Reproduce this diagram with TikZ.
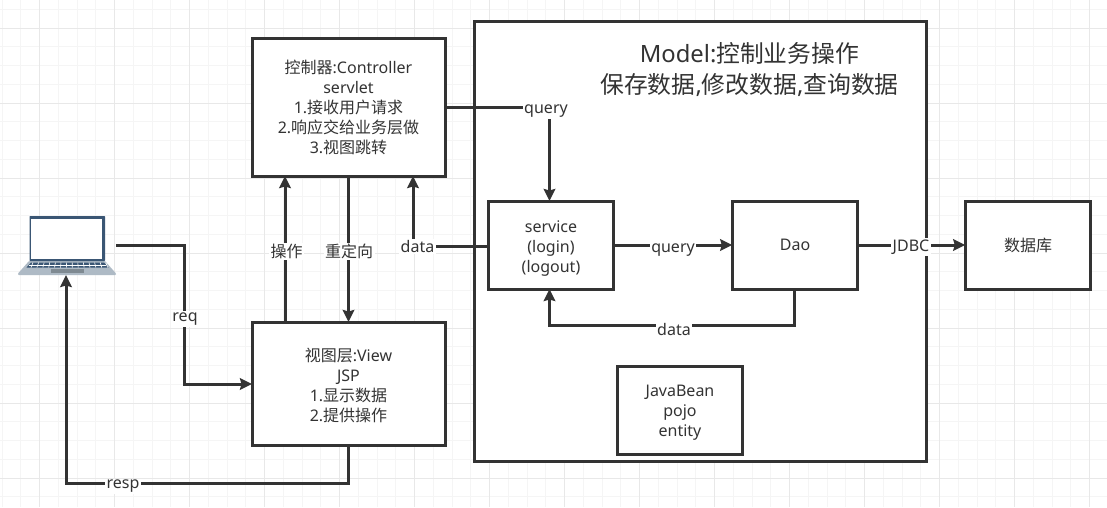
\documentclass[tikz,border=0pt]{standalone}
\usepackage{fontspec}
\setmainfont{Noto Sans}
\newfontfamily\cjk{Noto Sans CJK SC}
\newcommand{\Zh}[1]{{\cjk #1}}
\newcommand{\Dn}[1]{\rule{0pt}{#1pt}}
\usetikzlibrary{arrows.meta}
\definecolor{ink}{HTML}{333333}
\definecolor{gridminor}{HTML}{F5F5F5}
\definecolor{gridmajor}{HTML}{E8E8E8}
\definecolor{lapdark}{HTML}{3A5674}
\definecolor{lapbase}{HTML}{AEBAC5}
\definecolor{lappad}{HTML}{7F8A92}
\tikzset{
  x=1pt,y=-1pt,
  box/.style={draw=ink,fill=white,line width=3pt,inner sep=0pt,outer sep=0pt,align=center,text=ink,font=\fontsize{16}{20}\selectfont},
  conn/.style={draw=ink,line width=3pt},
  arr/.style={conn,-{Stealth[length=12pt,width=11.5pt,inset=1.5pt]}},
  lbl/.style={fill=white,text=ink,inner sep=1.5pt,font=\fontsize{16}{18}\selectfont},
  title/.style={text=ink,inner sep=0pt,align=center,font=\fontsize{23.8}{31}\selectfont},
}
\begin{document}
\begin{tikzpicture}
\useasboundingbox (0,0) rectangle (1107,507);
\fill[white] (0,0) rectangle (1107,507);
% grid
\foreach \k in {-2,...,57}{
  \draw[gridminor,line width=1pt] ({39.5+\k*18.75},0) -- ({39.5+\k*18.75},507);
}
\foreach \k in {-1,...,26}{
  \draw[gridminor,line width=1pt] (0,{28+\k*18.75}) -- (1107,{28+\k*18.75});
}
\foreach \k in {0,...,14}{
  \draw[gridmajor,line width=1pt] ({39.5+\k*75},0) -- ({39.5+\k*75},507);
}
\foreach \k in {0,...,6}{
  \draw[gridmajor,line width=1pt] (0,{28+\k*75}) -- (1107,{28+\k*75});
}
% boxes
\node[box,minimum width=452.5pt,minimum height=440pt] (model) at (700.5,241) {};
\node[title] (modeltitle) at (749.5,70) {Model:\Zh{控制业务操作}\\\Zh{保存数据},\Zh{修改数据},\Zh{查询数据}};
\node[box,minimum width=193pt,minimum height=138pt] (ctrl) at (348.5,107) {\Dn{15}\Zh{控制器}:Controller\\servlet\\1.\Zh{接收用户请求}\\2.\Zh{响应交给业务层做}\\3.\Zh{视图跳转}};
\node[box,minimum width=193pt,minimum height=123pt] (view) at (348.5,383.5) {\Dn{17}\Zh{视图层}:View\\JSP\\1.\Zh{显示数据}\\2.\Zh{提供操作}};
\node[box,minimum width=125.5pt,minimum height=88pt] (service) at (551,245) {\Dn{18}service\\(login)\\(logout)};
\node[box,minimum width=125.5pt,minimum height=88pt] (dao) at (795,245) {Dao};
\node[box,minimum width=125.5pt,minimum height=88pt] (db) at (1028,245) {\Zh{数据库}};
\node[box,minimum width=125.5pt,minimum height=88pt] (bean) at (680,410) {\Dn{16}JavaBean\\pojo\\entity};
% laptop
\fill[lapbase,rounded corners=0.8pt] (29,261) -- (105,261) -- (116,273.5) -- (116,275) -- (18,275) -- (18,273.5) -- cycle;
\fill[lapdark,rounded corners=0.6pt] (29.5,216) rectangle (105,261);
\fill[white] (31,219) rectangle (102,259);
\fill[lapdark] (31,262.5) -- (104,262.5) -- (108.5,267.5) -- (26.5,267.5) -- cycle;
\foreach \k in {0,...,13}{
  \draw[white,line width=0.6pt] ({33+\k*5.6},262.5) -- ({31+\k*5.9},267.5);
}
\draw[white,line width=0.5pt] (29,265) -- (106,265);
\fill[lappad] (51,269) rectangle (84,272.5);
\coordinate (lapout) at (116,245);
\coordinate (lapin) at (66,275);
% helper coordinates
\coordinate (reqbend1) at (184.5,245);
\coordinate (reqbend2) at (184.5,384);
\coordinate (respbend1) at (348.5,483);
\coordinate (respbend2) at (66,483);
\coordinate (opx) at (285,250);
\coordinate (datax) at (413,246);
\coordinate (queryb1) at (549.5,107);
\coordinate (serviceq) at (549.5,201);
\coordinate (serviced) at (549.5,289);
\coordinate (daob) at (794,289);
\coordinate (dbend1) at (794,325.5);
\coordinate (dbend2) at (549.5,325.5);
% connectors
\draw[arr] (lapout) -- (reqbend1) -- (reqbend2) -- (view.west |- reqbend2);
\draw[arr] (view.south) -- (respbend1) -- (respbend2) -- (lapin);
\draw[arr] (opx |- view.north) -- (opx |- ctrl.south);
\draw[arr] (ctrl.south) -- (view.north);
\draw[arr] (service.west |- datax) -- (datax) -- (datax |- ctrl.south);
\draw[arr] (ctrl.east |- queryb1) -- (queryb1) -- (serviceq);
\draw[arr] (service.east) -- (dao.west);
\draw[arr] (daob) -- (dbend1) -- (dbend2) -- (serviced);
\draw[arr] (dao.east) -- (db.west);
% labels
\node[lbl] (lreq) at (185,319) {req};
\node[lbl] (lresp) at (123,486.5) {resp};
\node[lbl] (lop) at (286.5,251.5) {\Zh{操作}};
\node[lbl] (lredir) at (349,251.5) {\Zh{重定向}};
\node[lbl] (ldata) at (417.5,246.5) {data};
\node[lbl] (lquery) at (546,111.5) {query};
\node[lbl] (lquery2) at (673,250.5) {query};
\node[lbl] (ldata2) at (674,329.5) {data};
\node[lbl] (ljdbc) at (911,247) {JDBC};
\end{tikzpicture}
\end{document}
